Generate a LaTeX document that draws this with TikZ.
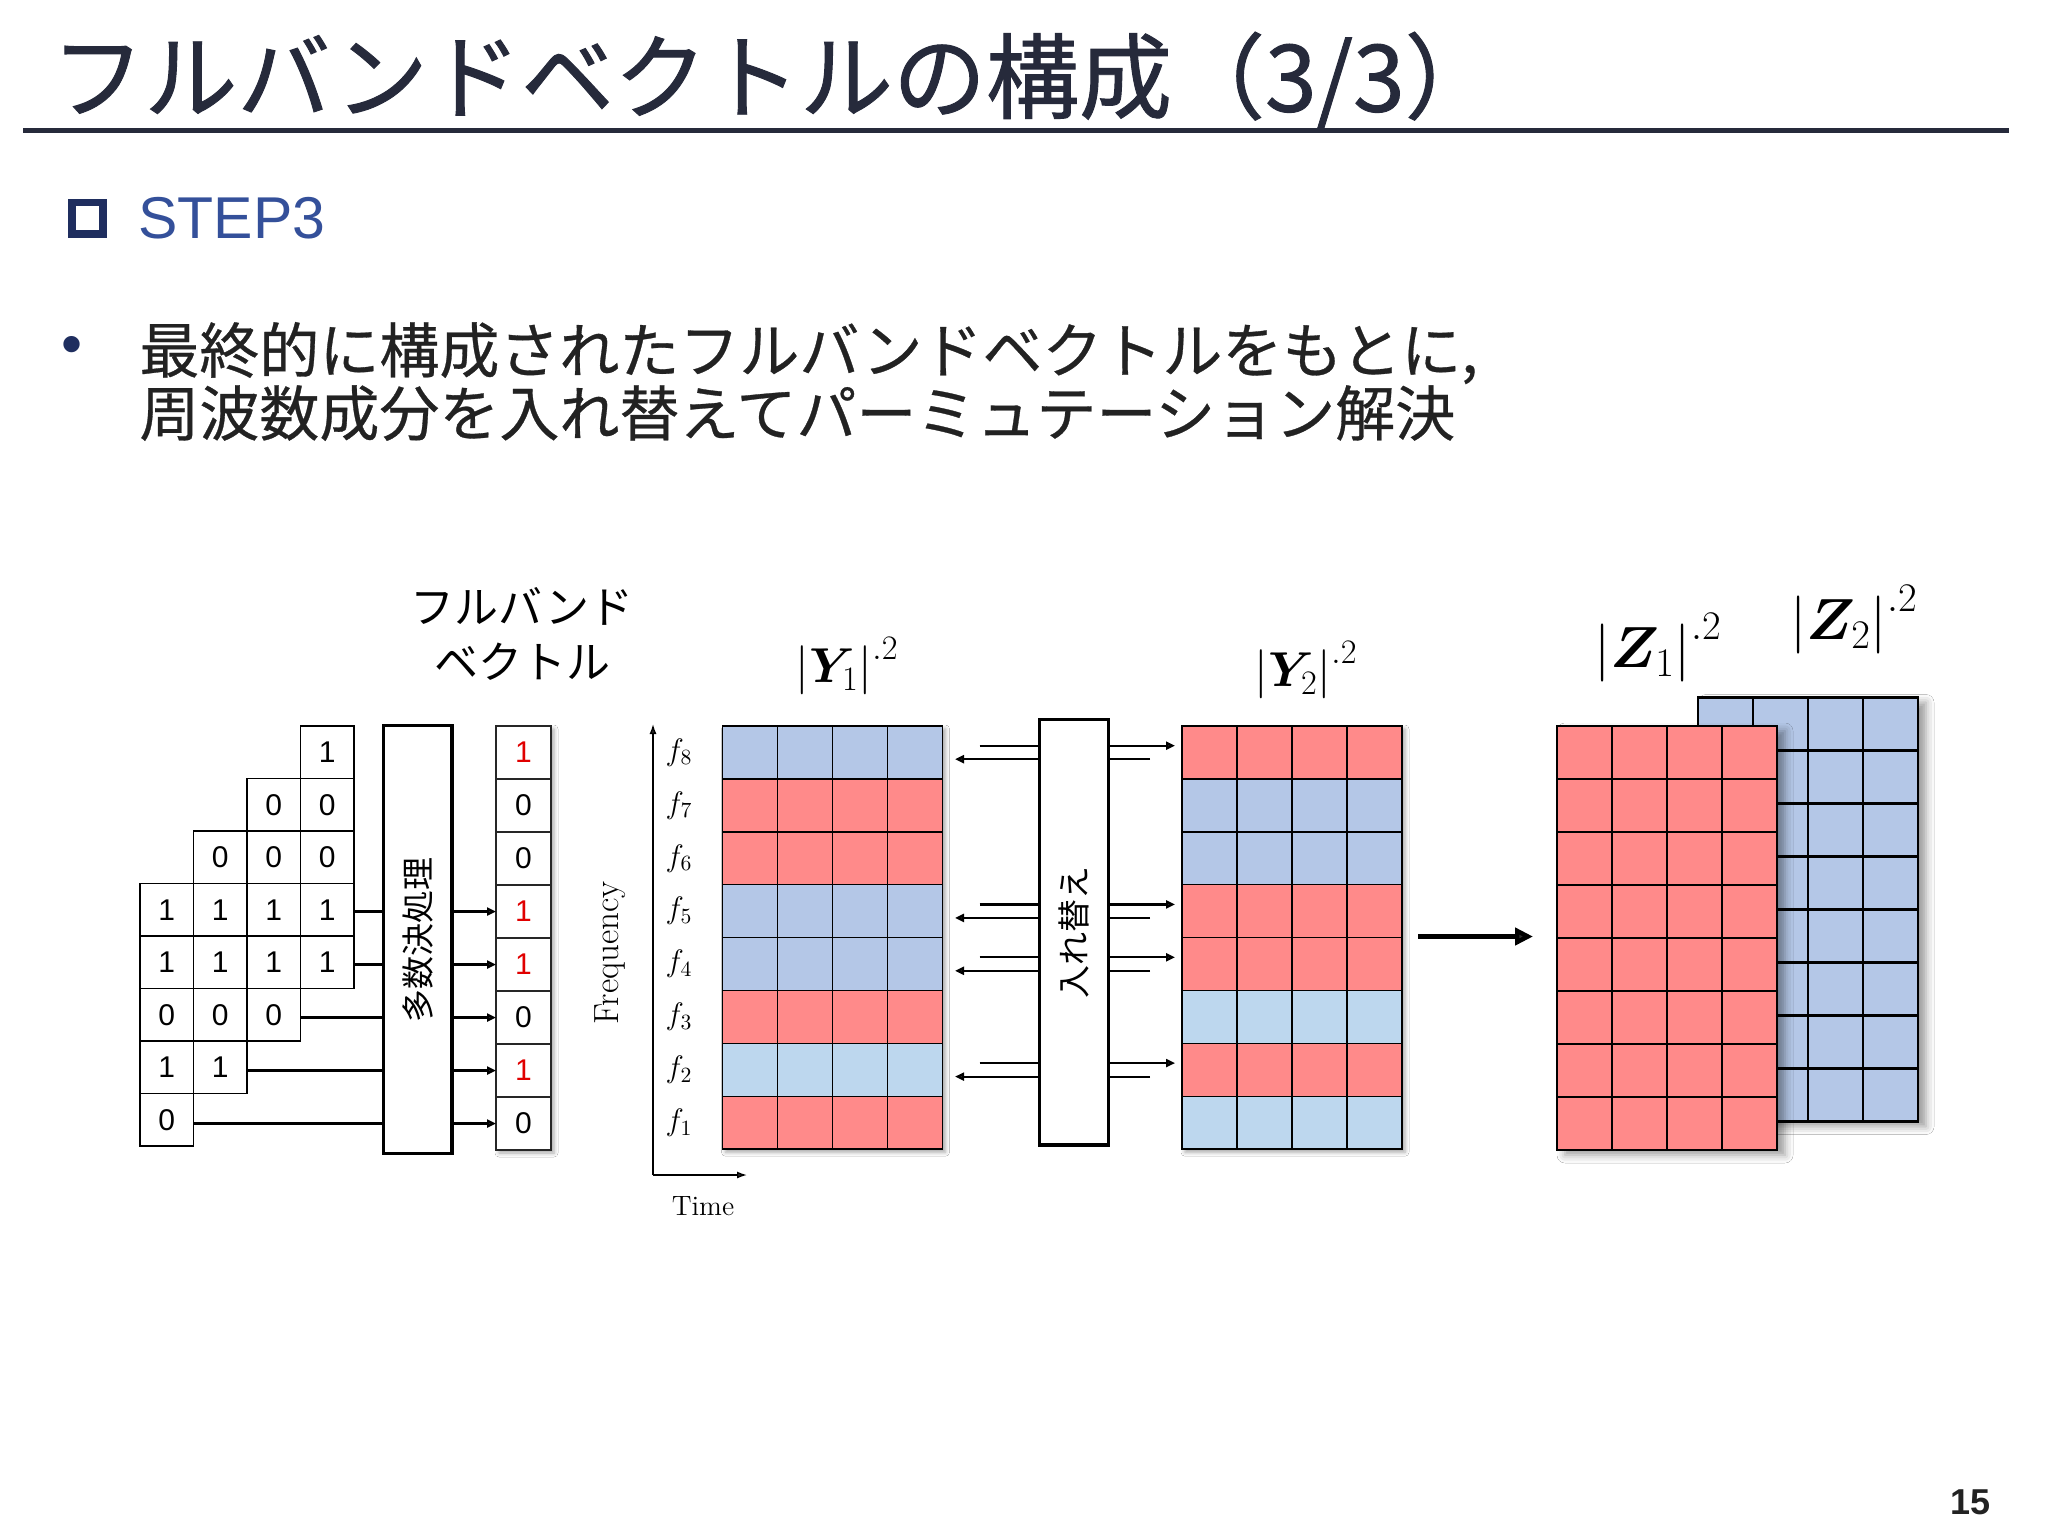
\RequirePackage{fix-cm}
\documentclass[tikz,border=0pt]{standalone}
\usepackage{fontspec}
\usepackage{bm}
\usetikzlibrary{arrows.meta,shadows.blur,calc}
\newfontfamily\jp{Noto Sans CJK JP}
\newfontfamily\jpt[FakeBold=1.0]{Noto Sans CJK JP}
\newfontfamily\jpb[FakeBold=0.5]{Noto Sans CJK JP}
\newfontfamily\arial{Liberation Sans}
\definecolor{titlec}{HTML}{262A3B}
\definecolor{navy}{HTML}{1F2E5F}
\definecolor{stepc}{HTML}{34509A}
\definecolor{bodyc}{HTML}{222222}
\definecolor{cred}{HTML}{FF8A8A}
\definecolor{cblue}{HTML}{B4C7E7}
\definecolor{clblue}{HTML}{BDD7EE}
\definecolor{dred}{HTML}{E00000}
\begin{document}
\begin{tikzpicture}[x=0.5pt,y=-0.5pt,
  bitcell/.style={draw=black,line width=0.65pt,minimum width=26.75pt,minimum height=26.25pt,inner sep=0pt,outer sep=0pt,font=\arial\fontsize{15}{16}\selectfont},
  veccell/.style={draw=black!85,line width=0.65pt,minimum width=27.5pt,minimum height=26.5pt,inner sep=0pt,outer sep=0pt,font=\arial\fontsize{15}{16}\selectfont},
  ycell/.style={draw=black,line width=0.75pt,minimum width=27.5pt,minimum height=26.45pt,inner sep=0pt,outer sep=0pt},
  zcell/.style={draw=black,line width=1.4pt,minimum width=27.5pt,minimum height=26.5pt,inner sep=0pt,outer sep=0pt},
  procbox/.style={draw=black,line width=1.7pt,inner sep=0pt},
  conn/.style={line width=1.1pt},
  tipped/.style={-{Triangle[length=4.5pt,width=4pt]}},
  shade/.style={blur shadow={shadow xshift=1.5pt,shadow yshift=-1.5pt,shadow blur radius=2pt,shadow opacity=35}},
  zshade/.style={blur shadow={shadow xshift=4pt,shadow yshift=-2.5pt,shadow blur radius=4pt,shadow opacity=40}},
  jplabel/.style={font=\jp\fontsize{16.5}{18}\selectfont},
]
\fill[white] (0,0) rectangle (2048,1536);
\useasboundingbox (0,0) rectangle (2048,1536);

% ---------- header ----------
\node[anchor=west,inner sep=0pt,text=titlec,font=\jpt\fontsize{46.5}{50}\selectfont] (title) at (51,80) {フルバンドベクトルの構成（3/3）};
\draw[line width=2.6pt,titlec] (23,130.5) -- (2009,130.5);

\node[draw=navy,line width=3.9pt,minimum size=15.6pt,inner sep=0pt] (sq) at (87.5,218) {};
\node[anchor=west,inner sep=0pt,text=stepc,font=\arial\fontsize{29.5}{34}\selectfont] (step3) at (138,218) {STEP3};

\node[text=navy,font=\arial\fontsize{30}{34}\selectfont,inner sep=0pt] (bul) at (72,350) {•};
\node[anchor=west,inner sep=0pt,align=left,text=bodyc,font=\jpb\fontsize{30}{31.5}\selectfont] (body) at (139,381.5)
  {最終的に構成されたフルバンドベクトルをもとに,\\周波数成分を入れ替えてパーミュテーション解決};

\node[text=bodyc,font=\arial\bfseries\fontsize{18}{20}\selectfont] (page) at (1970,1502) {15};

% ---------- staircase of bits ----------
\foreach \r/\c/\v in {1/4/1, 2/3/0, 2/4/0, 3/2/0, 3/3/0, 3/4/0,
  4/1/1, 4/2/1, 4/3/1, 4/4/1, 5/1/1, 5/2/1, 5/3/1, 5/4/1,
  6/1/0, 6/2/0, 6/3/0, 7/1/1, 7/2/1, 8/1/0}
  \node[bitcell] (b-\r-\c) at ({140+53.5*(\c-0.5)},{726+52.5*(\r-0.5)}) {\v};

% majority box
\node[procbox,minimum width=34.3pt,minimum height=213.8pt] (maj) at (417.5,939.5) {};
\node[jplabel,rotate=90] (majt) at (maj.center) {多数決処理};

% full-band vector
\path[shade] (496,726) rectangle (551,1150);
\foreach \r/\v/\col in {1/1/dred, 2/0/black, 3/0/black, 4/1/dred, 5/1/dred, 6/0/black, 7/1/dred, 8/0/black}
  \node[veccell,fill=white,text=\col] (v-\r) at (523.5,{726+53*(\r-0.5)}) {\v};

\node[align=center,font=\jp\fontsize{22}{27.5}\selectfont] (fbl) at (522,634) {フルバンド\\ベクトル};

% connectors bits -> majority -> vector
\foreach \r/\c in {4/4, 5/4, 6/3, 7/2, 8/1} {
  \draw[conn] (b-\r-\c.east |- v-\r.center) -- (maj.west |- v-\r.center);
  \draw[conn,tipped] (maj.east |- v-\r.center) -- (v-\r.west);
}

% ---------- axis ----------
\coordinate (ax0) at (653,1175);
\coordinate (axT) at (653,724);
\coordinate (axR) at (747,1175);
\draw[line width=0.7pt,-{Latex[length=5pt,width=3.5pt]}] (ax0) -- (axT);
\draw[line width=0.7pt,-{Latex[length=5pt,width=3.5pt]}] (ax0) -- (axR);
\node[rotate=90,font=\fontsize{17.5}{19}\selectfont] (freq) at (610,953) {Frequency};
\node[font=\fontsize{14}{16}\selectfont] (time) at (703,1206) {Time};

% ---------- Y1 ----------
\path[shade] (722.5,726) rectangle (942.5,1149.2);
\foreach \r/\col in {1/cblue,2/cred,3/cred,4/cblue,5/cblue,6/cred,7/clblue,8/cred} {
  \foreach \c in {1,...,4}
    \node[ycell,fill=\col] (ya-\r-\c) at ({722.5+55*(\c-0.5)},{726+52.9*(\r-0.5)}) {};
  \pgfmathtruncatemacro\k{9-\r}
  \node[font=\fontsize{15.5}{16}\selectfont] (f-\r) at (679,{726+52.9*(\r-0.5)}) {$f_{\k}$};
}
\node[font=\fontsize{24.5}{28}\selectfont] (y1lab) at (847,666) {$\left|\bm{Y}_1\right|^{.2}$};

% ---------- Y2 ----------
\path[shade] (1182,726) rectangle (1402,1149.2);
\foreach \r/\col in {1/cred,2/cblue,3/cblue,4/cred,5/cred,6/clblue,7/cred,8/clblue}
  \foreach \c in {1,...,4}
    \node[ycell,fill=\col] (yb-\r-\c) at ({1182+55*(\c-0.5)},{726+52.9*(\r-0.5)}) {};
\node[font=\fontsize{24.5}{28}\selectfont] (y2lab) at (1306,670) {$\left|\bm{Y}_2\right|^{.2}$};

% ---------- permutation box ----------
\node[procbox,minimum width=34.55pt,minimum height=212.8pt] (perm) at (1073.75,932) {};
\node[jplabel,rotate=90] (permt) at (perm.center) {入れ替え};

\foreach \r in {1,4,5,7} {
  \pgfmathsetmacro\yc{726+52.9*(\r-0.5)}
  \coordinate (la-\r) at (979.5,\yc-6.75);
  \coordinate (lt-\r) at (955,\yc+6.75);
  \coordinate (rt-\r) at (1175,\yc-6.75);
  \coordinate (ra-\r) at (1150,\yc+6.75);
  \draw[conn] (la-\r) -- (perm.west |- la-\r);
  \draw[conn,tipped] (perm.west |- lt-\r) -- (lt-\r);
  \draw[conn,tipped] (perm.east |- rt-\r) -- (rt-\r);
  \draw[conn] (ra-\r) -- (perm.east |- ra-\r);
}

% ---------- big arrow ----------
\coordinate (ba) at (1418,936.5);
\coordinate (bb) at (1533,936.5);
\draw[line width=2.2pt,-{Triangle[length=9pt,width=8.5pt]}] (ba) -- (bb);

% ---------- Z2 (back) ----------
\path[zshade] (1698,697.5) rectangle (1918,1121.5);
\foreach \r in {1,...,8}
  \foreach \c in {1,...,4}
    \node[zcell,fill=cblue] (zb-\r-\c) at ({1698+55*(\c-0.5)},{697.5+53*(\r-0.5)}) {};
% ---------- Z1 (front) ----------
\path[zshade] (1557,726) rectangle (1777,1150);
\foreach \r in {1,...,8}
  \foreach \c in {1,...,4}
    \node[zcell,fill=cred] (za-\r-\c) at ({1557+55*(\c-0.5)},{726+53*(\r-0.5)}) {};

\node[font=\fontsize{29}{32}\selectfont] (z1lab) at (1658,648) {$\left|\bm{Z}_1\right|^{.2}$};
\node[font=\fontsize{29}{32}\selectfont] (z2lab) at (1854,620) {$\left|\bm{Z}_2\right|^{.2}$};
\end{tikzpicture}
\end{document}
